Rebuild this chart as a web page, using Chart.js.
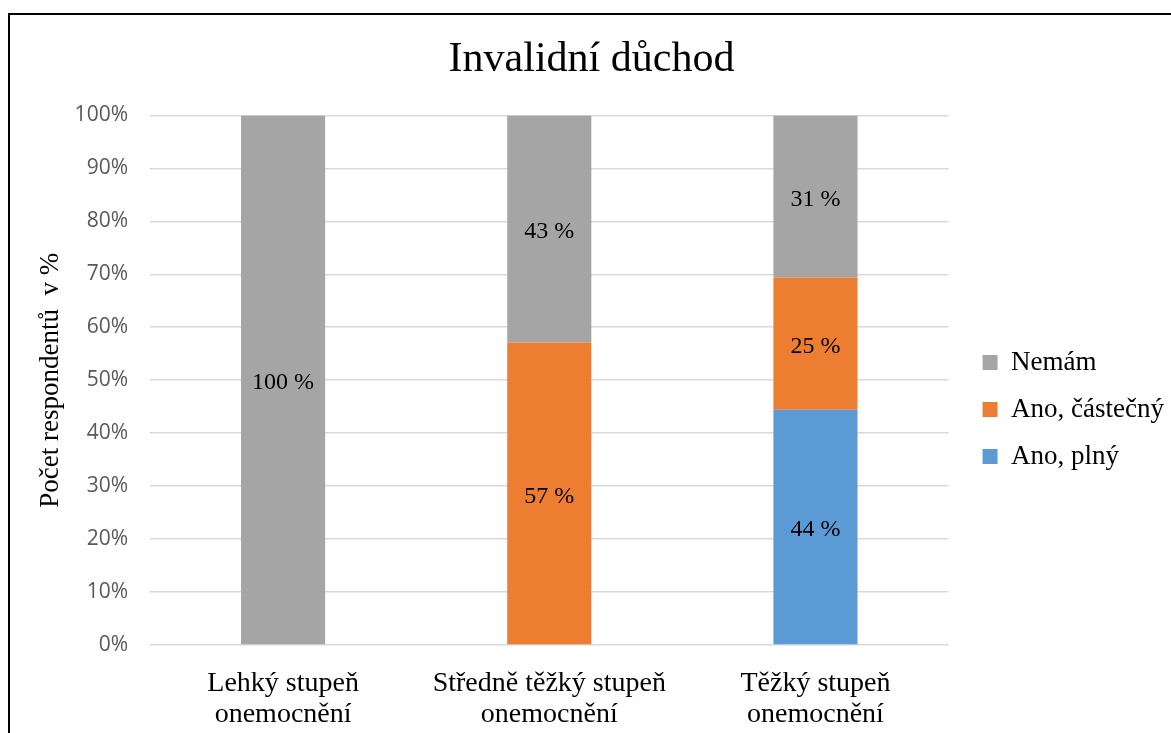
<!DOCTYPE html>
<html>
<head>
<meta charset="utf-8">
<script src="https://cdn.jsdelivr.net/npm/chart.js@4"></script>
<style>
  body { margin: 0; background: #fff; overflow: hidden; }
  #frame { position: absolute; left: 8px; top: 13px; width: 2000px; height: 2000px;
           border-left: 2px solid #000; border-top: 2px solid #000; pointer-events: none; }
</style>
</head>
<body>
<canvas id="myChart" width="1171" height="733"></canvas>
<div id="frame"></div>
<script>
const categories = [
  ["Lehký stupeň", "onemocnění"],
  ["Středně těžký stupeň", "onemocnění"],
  ["Těžký stupeň", "onemocnění"]
];
const anoPlny = [0, 0, 44.4];
const anoCastecny = [0, 57.1, 25.0];
const nemam = [100, 42.9, 30.6];
const yTicks = [0, 10, 20, 30, 40, 50, 60, 70, 80, 90, 100];

const serif = "'Liberation Serif', 'Times New Roman', serif";

// draws the "NN %" labels in the middle of each segment
const segmentLabels = {
  id: "segmentLabels",
  afterDatasetsDraw(chart) {
    const ctx = chart.ctx;
    ctx.save();
    ctx.font = "24px " + serif;
    ctx.fillStyle = "#000";
    ctx.textAlign = "center";
    ctx.textBaseline = "middle";
    chart.data.datasets.forEach((ds, i) => {
      chart.getDatasetMeta(i).data.forEach((bar, j) => {
        const v = ds.data[j];
        if (!v) return;
        ctx.fillText(Math.round(v) + " %", bar.x, (bar.y + bar.base) / 2 + 3);
      });
    });
    ctx.restore();
  }
};

// moves the legend a bit, like Excel places it
const legendNudge = {
  id: "legendNudge",
  afterLayout(chart) {
    const lg = chart.legend;
    lg.left += 14; lg.right += 14;
    lg.top += 43; lg.bottom += 43;
  }
};

new Chart("myChart", {
  type: "bar",
  data: {
    labels: categories,
    datasets: [
      { label: "Ano, plný", data: anoPlny, backgroundColor: "#5b9bd5" },
      { label: "Ano, částečný", data: anoCastecny, backgroundColor: "#ed7d31" },
      { label: "Nemám", data: nemam, backgroundColor: "#a5a5a5" }
    ]
  },
  options: {
    responsive: false,
    animation: false,
    layout: { padding: { left: 23, right: 11, top: 0, bottom: 0 } },
    datasets: { bar: { barPercentage: 1, categoryPercentage: 0.316 } },
    scales: {
      x: {
        stacked: true,
        grid: { display: false },
        border: { display: false },
        ticks: { color: "#000", font: { family: serif, size: 28, lineHeight: 1.1 }, padding: 15, maxRotation: 0 },
        afterFit(scale) { scale.height = 88; }
      },
      y: {
        stacked: true,
        min: 0,
        max: 100,
        afterBuildTicks(scale) { scale.ticks = yTicks.map(v => ({ value: v })); },
        grid: { color: "#d9d9d9", lineWidth: 1.5, drawTicks: false },
        border: { display: false },
        ticks: {
          color: "#595959",
          font: { family: "'Open Sans', sans-serif", size: 21 },
          padding: 22,
          callback: v => v + "%"
        },
        title: {
          display: true,
          text: "Počet respondentů  v %",
          color: "#000",
          font: { family: serif, size: 27 },
          padding: { top: 12 }
        },
        afterFit(scale) { scale.width = 127; }
      }
    },
    plugins: {
      title: {
        display: true,
        text: "Invalidní důchod",
        color: "#000",
        font: { family: serif, size: 42, weight: "normal" },
        padding: { top: 35, bottom: 30 }
      },
      legend: {
        position: "right",
        reverse: true,
        labels: {
          color: "#000",
          font: { family: serif, size: 27 },
          boxWidth: 15,
          boxHeight: 15,
          padding: 20
        }
      },
      tooltip: { enabled: false }
    }
  },
  plugins: [segmentLabels, legendNudge]
});
</script>
</body>
</html>
